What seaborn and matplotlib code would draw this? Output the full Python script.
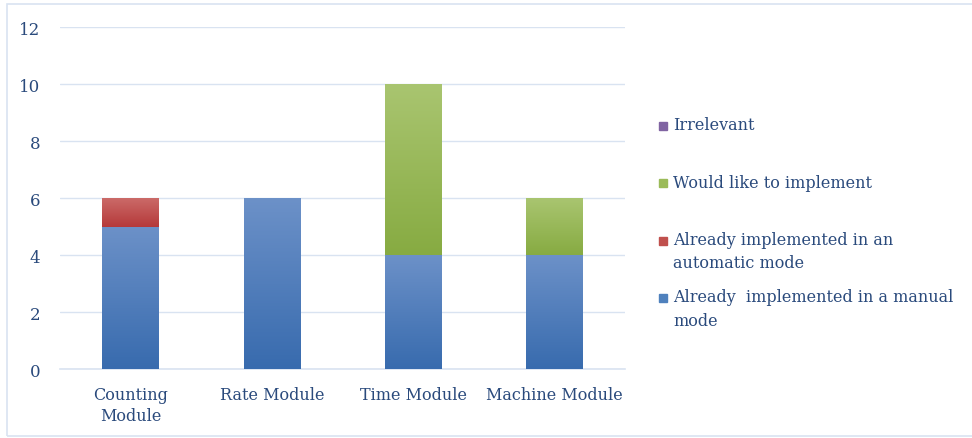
import numpy as np
import matplotlib
matplotlib.use("Agg")
import matplotlib.pyplot as plt
from matplotlib.colors import LinearSegmentedColormap
from matplotlib.patches import Rectangle
import seaborn as sns

categories = ["Counting\nModule", "Rate Module", "Time Module", "Machine Module"]
manual_mode = [5, 6, 4, 4]
automatic_mode = [1, 0, 0, 0]
would_like = [0, 0, 6, 2]
irrelevant = [0, 0, 0, 0]

series_labels = [
    "Already  implemented in a manual\nmode",
    "Already implemented in an\nautomatic mode",
    "Would like to implement",
    "Irrelevant",
]
series_values = [manual_mode, automatic_mode, would_like, irrelevant]
# (top colour, bottom colour) of each gradient fill
series_colors = [
    ("#6C91C8", "#386BAE"),
    ("#CB6A68", "#B5393A"),
    ("#A9C570", "#87AB42"),
    ("#957BB5", "#7559A0"),
]
legend_colors = ["#4F81BD", "#C0504D", "#9BBB59", "#8064A2"]

TEXT = "#2A4A7C"
GRID = "#D9E3F1"

sns.set_style("white")
plt.rcParams["font.family"] = ["DejaVu Serif"]

fig = plt.figure(figsize=(9.72, 4.39), dpi=100)
ax = fig.add_axes([0.0617, 0.157, 0.5813, 0.779])

cum = np.cumsum(np.array(series_values, dtype=float), axis=0)
n = len(series_values)
grad = np.linspace(0, 1, 128).reshape(-1, 1)

# draw cumulative totals from the top layer down so lower layers overlay
for k in range(n - 1, -1, -1):
    top_c, bot_c = series_colors[k]
    sns.barplot(x=categories, y=cum[k], color=bot_c, saturation=1, width=0.4,
                linewidth=0, ax=ax, zorder=2 + 2 * (n - k))
    bars = ax.containers[-1]
    lower = cum[k - 1] if k > 0 else np.zeros(len(categories))
    cmap = LinearSegmentedColormap.from_list(f"g{k}", [bot_c, top_c])
    for patch, lo, hi in zip(bars.patches, lower, cum[k]):
        if hi - lo <= 0:
            continue
        x0 = patch.get_x()
        im = ax.imshow(grad, cmap=cmap, origin="lower", aspect="auto",
                       extent=[x0, x0 + patch.get_width(), lo, hi],
                       zorder=3 + 2 * (n - k), interpolation="bilinear")
        im.set_clip_path(patch)

ax.set_xlim(-0.5, len(categories) - 0.5)
ax.set_ylim(0, 12)
ax.set_yticks(range(0, 13, 2))
ax.yaxis.grid(True, color=GRID, linewidth=1)
ax.set_axisbelow(True)
for side in ["left", "right", "top"]:
    ax.spines[side].set_visible(False)
ax.spines["bottom"].set_color(GRID)
ax.spines["bottom"].set_linewidth(1.2)

ax.tick_params(axis="y", length=0, pad=14, labelsize=12, labelcolor=TEXT)
ax.tick_params(axis="x", which="major", length=0, pad=12, labelsize=11.5, labelcolor=TEXT)
ax.set_xticks(np.arange(-0.5, len(categories)), minor=True)
ax.tick_params(axis="x", which="minor", length=5, color=GRID, width=1.2)
for lab in ax.get_xticklabels():
    lab.set_linespacing(1.35)
ax.set_xlabel("")
ax.set_ylabel("")

# legend, top entry = last series, evenly spaced like the original
for i, k in enumerate(range(n - 1, -1, -1)):
    y = 0.711 - i * 0.1306
    fig.patches.append(Rectangle((0.6775, y - 0.0095), 0.0082, 0.018,
                                 transform=fig.transFigure, color=legend_colors[k]))
    fig.text(0.6925, y + 0.022, series_labels[k], va="top", ha="left",
             fontsize=11.5, color=TEXT, linespacing=1.5)

fig.patches.append(Rectangle((0.0072, 0.005), 1.2, 0.9835, transform=fig.transFigure,
                             fill=False, edgecolor=GRID, linewidth=1.2))

fig.savefig("out.png", dpi=100)
